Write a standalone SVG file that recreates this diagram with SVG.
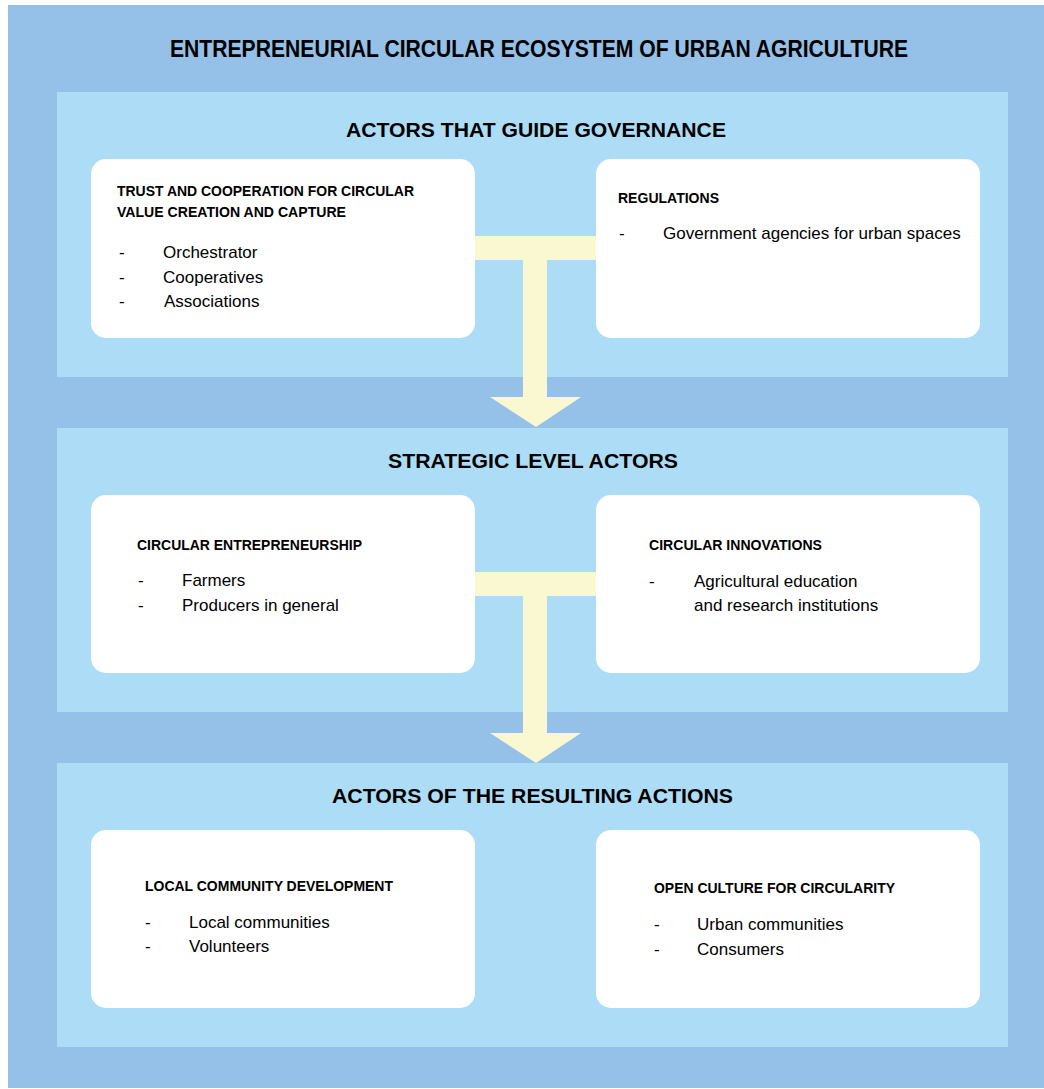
<svg xmlns="http://www.w3.org/2000/svg" width="1044" height="1089" viewBox="0 0 1044 1089">
<style>
.outer{fill:#95C1E8}
.panel{fill:#ADDDF6}
.box{fill:#FFFFFF}
.arrow{fill:#FAF8D0}
.t{font-family:"Liberation Sans",Arial,sans-serif;fill:#000}
.title{font-size:23px;font-weight:bold}
.ph{font-size:21px;font-weight:bold}
.bh{font-size:15px;font-weight:bold}
.it{font-size:17px}
</style>
<rect x="0" y="0" width="1044" height="1089" fill="#FFFFFF"/>
<rect class="outer" x="8" y="5" width="1036" height="1083"/>
<text class="t title" x="170" y="57" textLength="738" lengthAdjust="spacingAndGlyphs">ENTREPRENEURIAL CIRCULAR ECOSYSTEM OF URBAN AGRICULTURE</text>

<g id="panel-governance">
<rect class="panel" x="57" y="92" width="951" height="285"/>
<text class="t ph" x="346" y="137" textLength="380" lengthAdjust="spacingAndGlyphs">ACTORS THAT GUIDE GOVERNANCE</text>
</g>
<g id="panel-strategic">
<rect class="panel" x="57" y="428" width="951" height="284"/>
<text class="t ph" x="388" y="468" textLength="290" lengthAdjust="spacingAndGlyphs">STRATEGIC LEVEL ACTORS</text>
</g>
<g id="panel-resulting">
<rect class="panel" x="57" y="763" width="951" height="284"/>
<text class="t ph" x="332" y="803" textLength="401" lengthAdjust="spacingAndGlyphs">ACTORS OF THE RESULTING ACTIONS</text>
</g>

<g id="connectors">
<path class="arrow" d="M475 236H596V260H547V397H581L536 427L490 397H523V260H475Z"/>
<path class="arrow" d="M475 572H596V596H547V733H581L536 763L490 733H523V596H475Z"/>
</g>

<g id="box-trust">
<rect class="box" x="91" y="159" width="384" height="179" rx="15"/>
<text class="t bh" x="117" y="196" textLength="297" lengthAdjust="spacingAndGlyphs">TRUST AND COOPERATION FOR CIRCULAR</text>
<text class="t bh" x="117" y="217" textLength="229" lengthAdjust="spacingAndGlyphs">VALUE CREATION AND CAPTURE</text>
<text class="t it" x="119" y="258">-</text><text class="t it" x="163" y="258">Orchestrator</text>
<text class="t it" x="119" y="283">-</text><text class="t it" x="163" y="283">Cooperatives</text>
<text class="t it" x="119" y="307">-</text><text class="t it" x="164" y="307">Associations</text>
</g>
<g id="box-regulations">
<rect class="box" x="596" y="159" width="384" height="179" rx="15"/>
<text class="t bh" x="618" y="203" textLength="101" lengthAdjust="spacingAndGlyphs">REGULATIONS</text>
<text class="t it" x="619" y="239">-</text><text class="t it" x="663" y="239">Government agencies for urban spaces</text>
</g>
<g id="box-entrepreneurship">
<rect class="box" x="91" y="495" width="384" height="178" rx="15"/>
<text class="t bh" x="137" y="550" textLength="225" lengthAdjust="spacingAndGlyphs">CIRCULAR ENTREPRENEURSHIP</text>
<text class="t it" x="138" y="586">-</text><text class="t it" x="182" y="586">Farmers</text>
<text class="t it" x="138" y="611">-</text><text class="t it" x="182" y="611">Producers in general</text>
</g>
<g id="box-innovations">
<rect class="box" x="596" y="495" width="384" height="178" rx="15"/>
<text class="t bh" x="649" y="550" textLength="173" lengthAdjust="spacingAndGlyphs">CIRCULAR INNOVATIONS</text>
<text class="t it" x="649" y="587">-</text><text class="t it" x="694" y="587">Agricultural education</text>
<text class="t it" x="694" y="611">and research institutions</text>
</g>
<g id="box-local">
<rect class="box" x="91" y="830" width="384" height="178" rx="15"/>
<text class="t bh" x="145" y="891" textLength="248" lengthAdjust="spacingAndGlyphs">LOCAL COMMUNITY DEVELOPMENT</text>
<text class="t it" x="145" y="928">-</text><text class="t it" x="189" y="928">Local communities</text>
<text class="t it" x="145" y="952">-</text><text class="t it" x="189" y="952">Volunteers</text>
</g>
<g id="box-open">
<rect class="box" x="596" y="830" width="384" height="178" rx="15"/>
<text class="t bh" x="654" y="893" textLength="241" lengthAdjust="spacingAndGlyphs">OPEN CULTURE FOR CIRCULARITY</text>
<text class="t it" x="654" y="930">-</text><text class="t it" x="697" y="930">Urban communities</text>
<text class="t it" x="654" y="955">-</text><text class="t it" x="697" y="955">Consumers</text>
</g>
</svg>
